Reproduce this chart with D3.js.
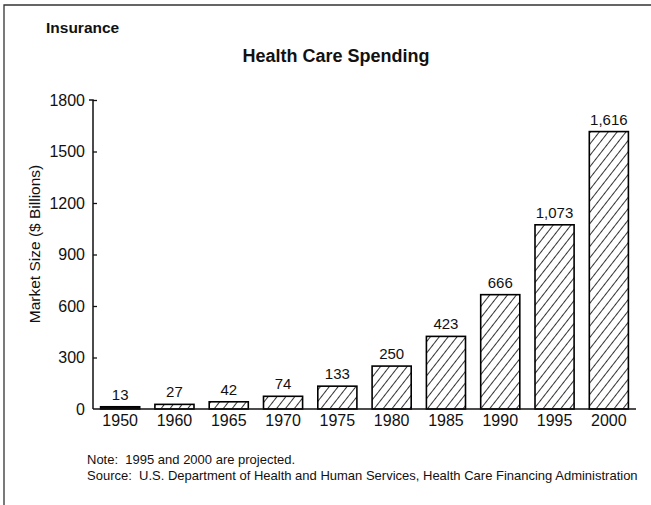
<!DOCTYPE html>
<html><head><meta charset="utf-8">
<script src="https://cdn.jsdelivr.net/npm/d3@7"></script>
<style>body{margin:0;background:#fff}svg{display:block}text{font-family:"Liberation Sans",Arial,sans-serif;fill:#111;white-space:pre}</style>
</head><body><svg id="c" width="651" height="505"></svg>
<script>
const years = ["1950","1960","1965","1970","1975","1980","1985","1990","1995","2000"];
const values = [13,27,42,74,133,250,423,666,1073,1616];
const valueLabels = ["13","27","42","74","133","250","423","666","1,073","1,616"];
const yTicks = [0,300,600,900,1200,1500,1800];

const svg = d3.select("#c");
const defs = svg.append("defs");
const pat = defs.append("pattern").attr("id","hatch").attr("patternUnits","userSpaceOnUse")
  .attr("width",7).attr("height",7).attr("patternTransform","rotate(38)");
pat.append("rect").attr("width",7).attr("height",7).attr("fill","#fff");
pat.append("line").attr("x1",0).attr("y1",0).attr("x2",0).attr("y2",7).attr("stroke","#000").attr("stroke-width",1.6);

// frame
svg.append("path").attr("d","M4,505 V5 H651").attr("fill","none").attr("stroke","#333").attr("stroke-width",1.3);

svg.append("text").attr("x",46).attr("y",33).attr("font-size",15.5).attr("font-weight","bold").text("Insurance");
svg.append("text").attr("x",336).attr("y",62).attr("text-anchor","middle").attr("font-size",18).attr("font-weight","bold").text("Health Care Spending");

const x0 = 93, x1 = 636, yTop = 100, yBot = 409;
const x = d3.scaleBand().domain(years).range([x0, x1]).paddingInner(0.28).paddingOuter(0.14);
const y = d3.scaleLinear().domain([0,1800]).range([yBot, yTop]);

const yAxis = svg.append("g").attr("transform",`translate(${x0},0)`)
  .call(d3.axisLeft(y).tickValues(yTicks).tickSize(-4).tickPadding(8).tickFormat(d3.format("d")));
yAxis.select(".domain").attr("stroke","#111").attr("stroke-width",1.5).attr("d",`M-4,${yTop}H0V${yBot}`);
yAxis.selectAll(".tick line").attr("stroke","#111").attr("stroke-width",1.3);
yAxis.selectAll(".tick text").attr("font-size",16).attr("font-family","Liberation Sans, Arial, sans-serif").attr("fill","#111");
yAxis.selectAll(".tick").filter(d=>d===1800).select("line").attr("x2",4);
yAxis.selectAll(".tick").filter(d=>d===0).select("line").remove();

svg.append("text").attr("transform",`translate(40,244) rotate(-90)`).attr("text-anchor","middle")
  .attr("font-size",15.5).text("Market Size ($ Billions)");

svg.selectAll("rect.bar").data(years).enter().append("rect").attr("class","bar")
  .attr("x",d=>x(d)).attr("width",x.bandwidth())
  .attr("y",(d,i)=>y(values[i])).attr("height",(d,i)=>yBot - y(values[i]))
  .attr("fill",(d,i)=> i===0 ? "#111" : "url(#hatch)").attr("stroke","#000").attr("stroke-width",1.6);

svg.selectAll("text.vl").data(years).enter().append("text").attr("class","vl")
  .attr("x",d=>x(d)+x.bandwidth()/2).attr("y",(d,i)=>y(values[i])-7)
  .attr("text-anchor","middle").attr("font-size",15).text((d,i)=>valueLabels[i]);

const xAxis = svg.append("g").attr("transform",`translate(0,${yBot})`)
  .call(d3.axisBottom(x).tickSize(0).tickPadding(6));
xAxis.select(".domain").attr("stroke","#111").attr("stroke-width",1.5).attr("d",`M${x0},0H${x1}`);
xAxis.selectAll(".tick text").attr("font-size",16).attr("font-family","Liberation Sans, Arial, sans-serif").attr("fill","#111");

svg.append("text").attr("x",87).attr("y",464).attr("font-size",13).text("Note:  1995 and 2000 are projected.");
svg.append("text").attr("x",87).attr("y",480).attr("font-size",13).text("Source:  U.S. Department of Health and Human Services, Health Care Financing Administration");
</script></body></html>
